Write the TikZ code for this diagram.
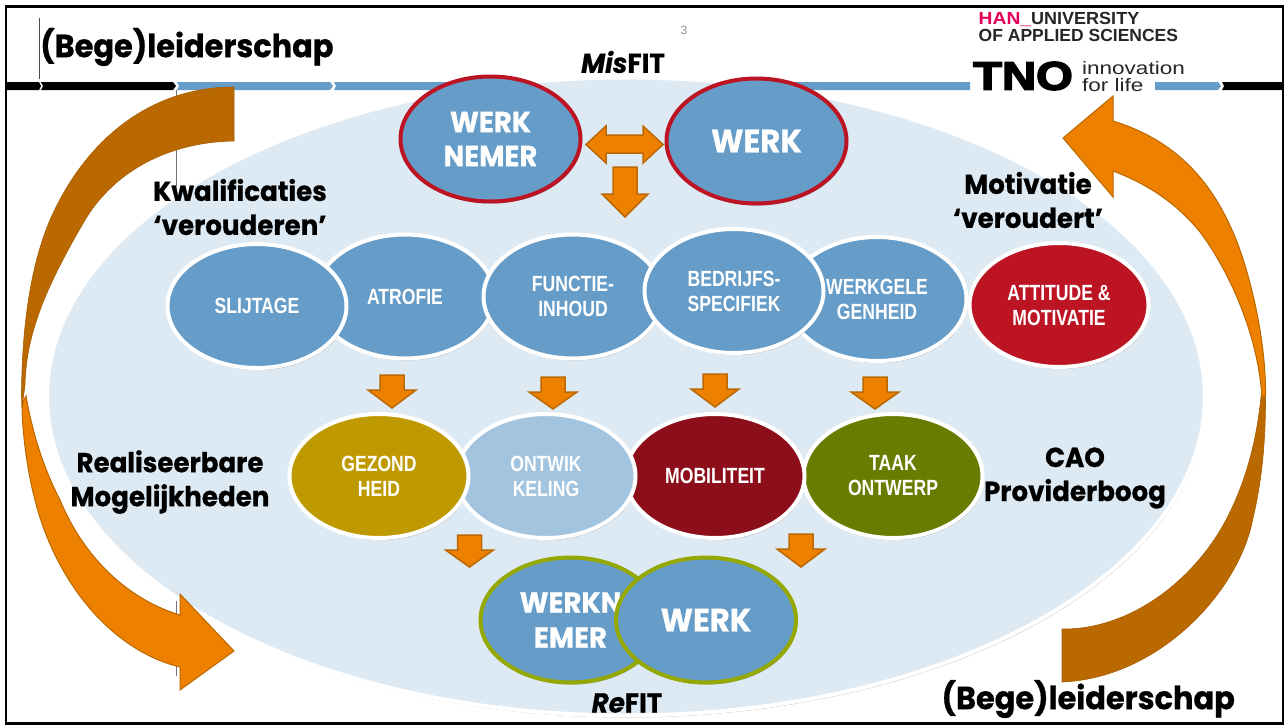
\documentclass[tikz,border=0pt]{standalone}
\usepackage{fontspec}
\usetikzlibrary{shapes.geometric,shadows}
\setmainfont{Liberation Sans}
\newfontfamily\headf[FakeStretch=0.95,FakeBold=0.6]{Poppins}
\newfontfamily\narrowf[FakeStretch=0.8]{Liberation Sans}
\newfontfamily\tnof[FakeBold=3.5]{Liberation Sans}
\newfontfamily\innof[FakeStretch=1.25]{Liberation Sans}
\definecolor{pale}{HTML}{DEEAF3}
\definecolor{steel}{HTML}{659CC8}
\definecolor{lightsteel}{HTML}{A3C4DF}
\definecolor{crim}{HTML}{BD1424}
\definecolor{wine}{HTML}{8C0E1B}
\definecolor{gold}{HTML}{BF9900}
\definecolor{olive2}{HTML}{697C00}
\definecolor{lime2}{HTML}{94A800}
\definecolor{orange2}{HTML}{EE8000}
\definecolor{brown2}{HTML}{BA6800}
\definecolor{pink2}{HTML}{E5005B}
\tikzset{
  softshadow/.style={drop shadow={shadow xshift=1pt,shadow yshift=-2pt,opacity=.35,fill=black}},
  oval/.style={ellipse,inner sep=0pt,minimum width=179pt,minimum height=124pt,line width=4pt,draw=white,fill=steel,softshadow,text=white,align=center,
     font=\narrowf\fontsize{22}{25}\selectfont\bfseries},
  redoval/.style={oval,draw=crim,minimum width=180pt,minimum height=125pt,font=\headf\fontsize{29}{34}\selectfont\bfseries},
  limeoval/.style={oval,draw=lime2,minimum width=180pt,minimum height=125pt,font=\headf\fontsize{29}{35}\selectfont\bfseries},
  bigword/.style={font=\headf\fontsize{32.5}{35}\selectfont\bfseries},
  heading/.style={text=black,align=center,inner sep=0pt,font=\headf\fontsize{27.5}{34}\selectfont\bfseries},
  title/.style={text=black,inner sep=0pt,font=\headf\fontsize{32}{34}\selectfont\bfseries},
  blockarrow/.style={fill=orange2,draw=brown2,line width=1.5pt,line join=miter},
  bandfront/.style={fill=orange2,draw=brown2,line width=1pt},
  bandback/.style={fill=brown2,draw=brown2!90!black,line width=.6pt},
  blackbar/.style={fill=black},
  bluebar/.style={fill=steel},
}
\newcommand{\dnarrow}[3]{\draw[blockarrow] (#1-12,#2) -- (#1+12,#2) -- (#1+12,#2+15) -- (#1+24,#2+15) -- (#1,#3) -- (#1-24,#2+15) -- (#1-12,#2+15) -- cycle;}
\begin{document}
\begin{tikzpicture}[x=1pt,y=-1pt]
\useasboundingbox (0,0) rectangle (1287,724);
\fill[white] (0,0) rectangle (1287,724);
% header bar
\fill[blackbar] (7,82) -- (39,82) -- (41,86) -- (39,90) -- (7,90) -- cycle;
\fill[blackbar] (41,82) -- (173,82) -- (176,86) -- (173,90) -- (41,90) -- (43,86) -- cycle;
\fill[bluebar] (177,82) -- (330,82) -- (333,86) -- (330,90) -- (177,90) -- (179,86) -- cycle;
\fill[bluebar] (334,82) -- (970,82) -- (970,90) -- (334,90) -- (336,86) -- cycle;
\fill[bluebar] (1155,82) -- (1218,82) -- (1221,86) -- (1218,90) -- (1155,90) -- cycle;
\fill[blackbar] (1222,82) -- (1282,82) -- (1282,90) -- (1222,90) -- (1224,86) -- cycle;
\draw[black!70,line width=.7pt] (39.5,18) -- (39.5,79);
\draw[black!55,line width=1pt] (176,90) -- (176,186);
\draw[black!55,line width=1pt] (176,601) -- (176,676);
% large field
\node[ellipse,inner sep=0pt,minimum width=1158pt,minimum height=638pt,fill=pale,draw=white,line width=4pt,softshadow] (field) at (626,396.5) {};
% large arrows
\draw[bandfront] (22,404) .. controls (22,430) and (27,470) .. (35,500) .. controls (55,580) and (110,650) .. (180,667)
  -- (180,690) -- (234,651) -- (180,594) -- (180,615) .. controls (130,600) and (85,560) .. (60,500) .. controls (42,465) and (32,430) .. (26,396) -- cycle;
\draw[bandback] (234,87) .. controls (150,87) and (85,140) .. (50,220) .. controls (35,255) and (22,310) .. (21.5,395)
  -- (22,408) -- (25,385) .. controls (26,330) and (50,280) .. (85,220) .. controls (115,170) and (170,142) .. (234,141) -- cycle;
\draw[bandback] (1265.5,388) .. controls (1266,440) and (1262,480) .. (1253,518) .. controls (1240,590) and (1160,678) .. (1062,682)
  -- (1062,629) .. controls (1130,630) and (1195,580) .. (1227,518) .. controls (1245,483) and (1258,440) .. (1262,385) -- cycle;
\draw[bandfront] (1113,121) -- (1113,96) -- (1063,138) -- (1113,197) -- (1113,171)
  .. controls (1150,185) and (1178,205) .. (1200,232) .. controls (1225,265) and (1258,330) .. (1262,398)
  -- (1265.5,395) .. controls (1266,330) and (1245,258) .. (1232,230) .. controls (1210,180) and (1175,140) .. (1113,121) -- cycle;
% top pair
\node[redoval] (wn) at (490.5,139) {WERK\\NEMER};
\node[redoval,bigword] (wk) at (756.5,141) {WERK};
\draw[blockarrow] (586,144.5) -- (606,126) -- (606,135) -- (643,135) -- (643,126) -- (663,144.5) -- (643,163) -- (643,153) -- (606,153) -- (606,163) -- cycle;
\draw[blockarrow] (613,167) -- (637,167) -- (637,194) -- (648,194) -- (625,217) -- (602,194) -- (613,194) -- cycle;
% second row
\node[oval] (atr) at (405,296.5) {ATROFIE};
\node[oval] (sli) at (257,306) {SLIJTAGE};
\node[oval] (fun) at (573,296.5) {FUNCTIE-\\INHOUD};
\node[oval] (gen) at (877,299) {WERKGELE\\GENHEID};
\node[oval] (bed) at (734,291) {BEDRIJFS-\\SPECIFIEK};
\node[oval,fill=crim] (att) at (1059,305) {ATTITUDE \&\\MOTIVATIE};
\dnarrow{392}{375}{408}
\dnarrow{553}{377}{409}
\dnarrow{715}{374}{407}
\dnarrow{875}{377}{409}
% third row
\node[oval,fill=olive2] (taa) at (893,476) {TAAK\\ONTWERP};
\node[oval,fill=wine] (mob) at (715,476) {MOBILITEIT};
\node[oval,fill=lightsteel] (ont) at (546,476) {ONTWIK\\KELING};
\node[oval,fill=gold] (gez) at (379,476) {GEZOND\\HEID};
\dnarrow{469.5}{535}{567}
\dnarrow{801}{534}{567}
% bottom pair
\node[limeoval] (wn2) at (570.5,620) {WERKN\\EMER};
\node[limeoval,bigword] (wk2) at (706,620) {WERK};
% frame
\draw[black,line width=2.5pt] (6,6.5) rectangle (1283,723.5);
% headings
\node[title,anchor=west] (t1) at (40,47) {(Bege)leiderschap};
\node[title,anchor=east] (t2) at (1235,699) {(Bege)leiderschap};
\node[heading] (kw) at (240,207) {Kwalificaties\\‘verouderen’};
\node[heading] (mo) at (1028,200) {Motivatie\\‘veroudert’};
\node[heading] (re) at (170,482) {Realiseerbare\\Mogelijkheden};
\node[heading] (ca) at (1075,478) {CAO\\Providerboog};
\node[heading] (mis) at (623,62) {\itshape Mis\upshape FIT};
\node[heading] (ref) at (627,703) {\itshape Re\upshape FIT};
% logos and page number
\node[text=black!45,font=\fontsize{12}{14}\selectfont,inner sep=0pt] (pg) at (684,30) {3};
\node[inner sep=0pt,align=left,anchor=west,font=\fontsize{17.5}{17}\selectfont\bfseries,text=black!85] (han) at (978.5,27) {\textcolor{pink2}{\scalebox{1.1}[1]{HAN\_}}\scalebox{1.03}[1]{UNIVERSITY}\\OF APPLIED SCIENCES};
\node[inner sep=0pt,anchor=west] (tno) at (973,76) {\scalebox{1.18}[1]{\tnof\fontsize{40}{40}\selectfont\bfseries TNO}};
\node[inner sep=0pt,align=left,anchor=west,font=\innof\fontsize{18}{17}\selectfont,text=black!85] (inn) at (1082,77) {innovation\\for life};
\end{tikzpicture}
\end{document}
